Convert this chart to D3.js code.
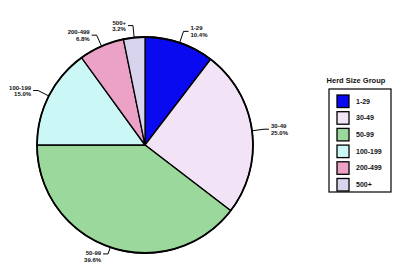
<!DOCTYPE html>
<html>
<head>
<meta charset="utf-8">
<script src="https://cdn.jsdelivr.net/npm/d3@7"></script>
<style>
  body { margin: 0; background: #fff; }
  text { font-family: "Liberation Sans", Arial, sans-serif; font-weight: bold; fill: #111; }
</style>
</head>
<body>
<script>
const groups = ["1-29", "30-49", "50-99", "100-199", "200-499", "500+"];
const shares = [10.4, 25.0, 39.6, 15.0, 6.8, 3.2];
const colors = ["#0a0af0", "#f2e4f6", "#9bd89b", "#cbf8f6", "#eca2c7", "#d9d4ee"];
const legendTitle = "Herd Size Group";

const W = 405, H = 265;
const cx = 145, cy = 145, R = 108;

const svg = d3.select("body").append("svg")
  .attr("width", W).attr("height", H);

const data = groups.map((g, i) => ({ group: g, value: shares[i], color: colors[i] }));

const pie = d3.pie().sort(null).value(d => d.value);
const arcs = pie(data);
const arc = d3.arc().innerRadius(0).outerRadius(R);

const g = svg.append("g").attr("transform", `translate(${cx},${cy})`);

g.selectAll("path.slice")
  .data(arcs)
  .enter()
  .append("path")
  .attr("class", "slice")
  .attr("d", arc)
  .attr("fill", d => d.data.color)
  .attr("stroke", "#000")
  .attr("stroke-width", 1.3);

g.append("circle")
  .attr("r", R)
  .attr("fill", "none")
  .attr("stroke", "#000")
  .attr("stroke-width", 1.8);

// labels with leader lines
const midAngle = a => (a.startAngle + a.endAngle) / 2;
const pt = (ang, r) => [Math.sin(ang) * r, -Math.cos(ang) * r];

const labels = g.selectAll("g.lbl")
  .data(arcs)
  .enter()
  .append("g")
  .attr("class", "lbl");

labels.each(function (d) {
  const m = midAngle(d);
  const right = Math.sin(m) >= 0;
  const bottom = Math.cos(m) < -0.8;
  const p0 = pt(m, R);
  const p1 = pt(m, bottom ? R + 7 : R + 12);
  const sel = d3.select(this);
  let p2, tx, ty, anchor;
  if (bottom) {
    p2 = [p1[0] - 5, p1[1]];
    tx = p2[0] - 2; ty = p2[1] + 2; anchor = "end";
  } else {
    p2 = [p1[0] + (right ? 5 : -5), p1[1]];
    tx = p2[0] + (right ? 2 : -2); ty = p2[1]; anchor = right ? "start" : "end";
  }
  sel.append("polyline")
    .attr("points", [p0, p1, p2].map(p => p.join(",")).join(" "))
    .attr("fill", "none")
    .attr("stroke", "#000")
    .attr("stroke-width", 1);
  const t = sel.append("text")
    .attr("x", tx).attr("y", ty)
    .attr("text-anchor", anchor)
    .attr("font-size", 6);
  t.append("tspan").attr("x", tx).attr("dy", "-0.15em").text(d.data.group);
  t.append("tspan").attr("x", tx).attr("dy", "1.1em").text(d3.format(".1f")(d.data.value) + "%");
});

// legend
const lg = svg.append("g").attr("transform", "translate(329,89)");
svg.append("text")
  .attr("x", 356).attr("y", 83)
  .attr("text-anchor", "middle")
  .attr("font-size", 7.5)
  .text(legendTitle);

const rowY = d3.scaleBand().domain(groups).range([6, 102]).paddingInner(0.25).paddingOuter(0);

lg.append("rect")
  .attr("width", 62).attr("height", 103)
  .attr("fill", "#fff")
  .attr("stroke", "#000")
  .attr("stroke-width", 1.2);

const rows = lg.selectAll("g.row")
  .data(data)
  .enter()
  .append("g")
  .attr("class", "row")
  .attr("transform", d => `translate(8,${rowY(d.group)})`);

rows.append("rect")
  .attr("width", 12).attr("height", rowY.bandwidth())
  .attr("fill", d => d.color)
  .attr("stroke", "#000")
  .attr("stroke-width", 1.3);

rows.append("text")
  .attr("x", 19)
  .attr("y", rowY.bandwidth() / 2 + 2.3)
  .attr("font-size", 7)
  .text(d => d.group);
</script>
</body>
</html>
